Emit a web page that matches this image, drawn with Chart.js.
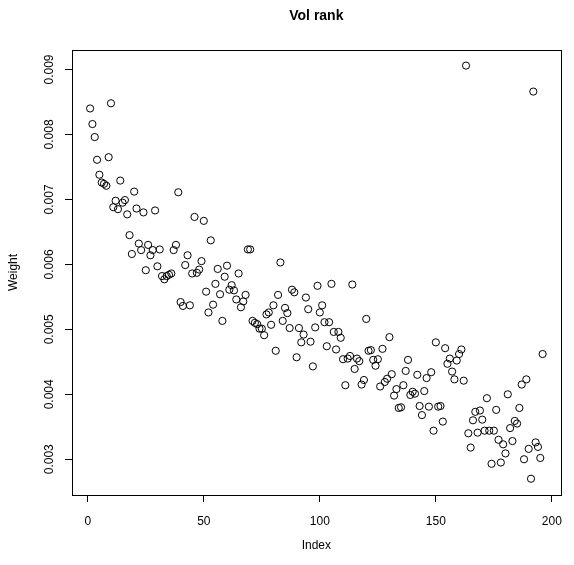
<!DOCTYPE html>
<html>
<head>
<meta charset="utf-8">
<script src="https://cdn.jsdelivr.net/npm/chart.js@4"></script>
<style>
  html, body { margin: 0; padding: 0; background: #fff; }
  #wrap { width: 574px; height: 565px; }
</style>
</head>
<body>
<div id="wrap"><canvas id="chart" width="574" height="565"></canvas></div>
<script>
// Vol rank — weights by index
const weights = [
  0.00840, 0.00816, 0.00796, 0.00761, 0.00738, 0.00726, 0.00724, 0.00721, 0.00765, 0.00848,
  0.00688, 0.00698, 0.00685, 0.00729, 0.00695, 0.00699, 0.00677, 0.00645, 0.00616, 0.00712,
  0.00686, 0.00632, 0.00622, 0.00680, 0.00591, 0.00630, 0.00614, 0.00622, 0.00683, 0.00597,
  0.00623, 0.00582, 0.00577, 0.00582, 0.00584, 0.00586, 0.00622, 0.00630, 0.00711, 0.00542,
  0.00536, 0.00599, 0.00614, 0.00537, 0.00586, 0.00673, 0.00587, 0.00592, 0.00605, 0.00667,
  0.00558, 0.00526, 0.00637, 0.00538, 0.00570, 0.00593, 0.00554, 0.00513, 0.00581, 0.00598,
  0.00561, 0.00568, 0.00560, 0.00546, 0.00586, 0.00534, 0.00543, 0.00553, 0.00623, 0.00623,
  0.00513, 0.00510, 0.00508, 0.00501, 0.00501, 0.00491, 0.00523, 0.00526, 0.00507, 0.00537,
  0.00467, 0.00553, 0.00603, 0.00513, 0.00533, 0.00525, 0.00502, 0.00561, 0.00557, 0.00457,
  0.00502, 0.00480, 0.00492, 0.00549, 0.00531, 0.00481, 0.00443, 0.00503, 0.00567, 0.00526,
  0.00537, 0.00511, 0.00474, 0.00511, 0.00570, 0.00496, 0.00469, 0.00496, 0.00487, 0.00454,
  0.00414, 0.00455, 0.00459, 0.00569, 0.00439, 0.00455, 0.00451, 0.00415, 0.00422, 0.00516,
  0.00467, 0.00468, 0.00453, 0.00444, 0.00454, 0.00412, 0.00470, 0.00419, 0.00424, 0.00488,
  0.00431, 0.00398, 0.00408, 0.00379, 0.00380, 0.00414, 0.00436, 0.00453, 0.00399, 0.00404,
  0.00401, 0.00430, 0.00382, 0.00368, 0.00405, 0.00425, 0.00381, 0.00434, 0.00344, 0.00480,
  0.00381, 0.00382, 0.00358, 0.00471, 0.00447, 0.00455, 0.00435, 0.00423, 0.00452, 0.00462,
  0.00469, 0.00421, 0.00906, 0.00340, 0.00318, 0.00360, 0.00373, 0.00341, 0.00375, 0.00361,
  0.00344, 0.00394, 0.00344, 0.00293, 0.00344, 0.00376, 0.00330, 0.00295, 0.00323, 0.00309,
  0.00400, 0.00348, 0.00328, 0.00359, 0.00355, 0.00379, 0.00415, 0.00300, 0.00423, 0.00316,
  0.00270, 0.00866, 0.00326, 0.00319, 0.00302, 0.00462
];
const xTicks = [0, 50, 100, 150, 200];
const yTicks = [0.003, 0.004, 0.005, 0.006, 0.007, 0.008, 0.009];
const titleText = "Vol rank";
const xLabel = "Index";
const yLabel = "Weight";

const points = weights.map((w, i) => ({ x: i + 1, y: w }));

// R style extras: box, rotated y labels, titles
const rFrame = {
    id: 'rFrame',
    afterDraw(chart) {
        const { ctx, chartArea: a, scales } = chart;
        ctx.save();
        ctx.strokeStyle = '#000';
        ctx.lineWidth = 1;
        ctx.strokeRect(Math.round(a.left) + 0.5, Math.round(a.top) + 0.5,
            Math.round(a.right - a.left), Math.round(a.bottom - a.top));

        ctx.fillStyle = '#000';
        ctx.font = '12px "Liberation Sans", Arial, sans-serif';
        ctx.textAlign = 'center';
        ctx.textBaseline = 'middle';
        yTicks.forEach(v => {
            const py = scales.y.getPixelForValue(v);
            ctx.save();
            ctx.translate(50, py);
            ctx.rotate(-Math.PI / 2);
            ctx.fillText(v.toFixed(3), 0, 0);
            ctx.restore();
        });

        const cx = (a.left + a.right) / 2;
        ctx.fillText(xLabel, cx, 546);
        ctx.save();
        ctx.translate(14, (a.top + a.bottom) / 2);
        ctx.rotate(-Math.PI / 2);
        ctx.fillText(yLabel, 0, 0);
        ctx.restore();

        ctx.font = 'bold 14px "Liberation Sans", Arial, sans-serif';
        ctx.fillText(titleText, cx, 16);
        ctx.restore();
    }
};

new Chart(document.getElementById('chart'), {
    type: 'scatter',
    data: {
        datasets: [{
            data: points,
            pointStyle: 'circle',
            pointRadius: 3.6,
            pointBorderWidth: 1,
            pointBorderColor: '#000',
            pointBackgroundColor: 'rgba(0,0,0,0)',
            pointHoverRadius: 3.6
        }]
    },
    options: {
        responsive: false,
        animation: false,
        events: [],
        layout: { padding: { left: 0, top: 50, right: 6, bottom: 0 } },
        plugins: {
            legend: { display: false },
            tooltip: { enabled: false },
            title: { display: false }
        },
        scales: {
            x: {
                type: 'linear',
                min: -6.8,
                max: 203.8,
                afterBuildTicks: s => { s.ticks = xTicks.map(v => ({ value: v })); },
                afterFit: s => { s.height = 70; },
                border: { display: false },
                grid: { drawOnChartArea: false, drawTicks: true, tickLength: 7, color: '#000', tickColor: '#000' },
                ticks: {
                    color: '#000',
                    padding: 12,
                    maxRotation: 0,
                    font: { family: '"Liberation Sans", Arial, sans-serif', size: 12 }
                }
            },
            y: {
                type: 'linear',
                min: 0.00245,
                max: 0.0093,
                afterBuildTicks: s => { s.ticks = yTicks.map(v => ({ value: v })); },
                afterFit: s => { s.width = 72; },
                border: { display: false },
                grid: { drawOnChartArea: false, drawTicks: true, tickLength: 7, color: '#000', tickColor: '#000' },
                ticks: { display: false }
            }
        }
    },
    plugins: [rFrame]
});
</script>
</body>
</html>
